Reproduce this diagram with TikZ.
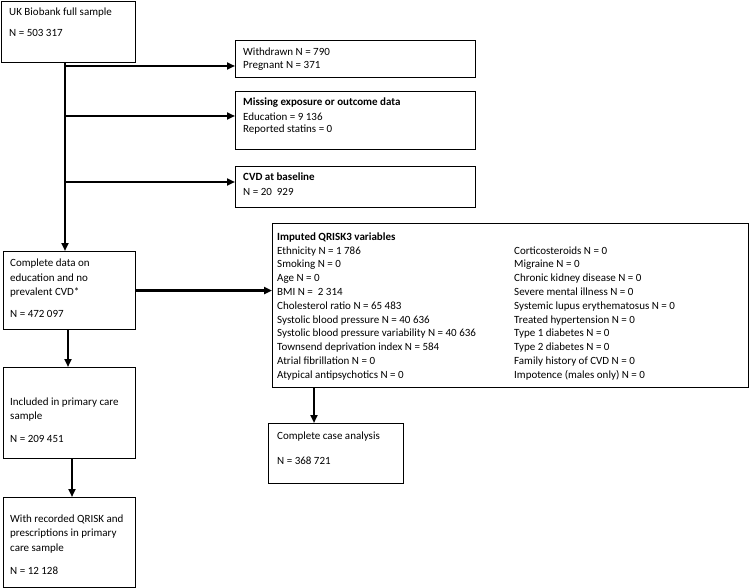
\documentclass[tikz,border=0pt]{standalone}
\usepackage{fontspec}
\setmainfont{Carlito}
\usetikzlibrary{arrows.meta}
\tikzset{
  box/.style={draw=black, line width=1.1pt, minimum width=#1, inner sep=0pt, anchor=north west},
  txt/.style={anchor=base west, inner sep=0pt, font=\fontsize{11}{13}\selectfont},
  arr/.style={line width=2.2pt, -{Triangle[length=8pt,width=7pt]}},
  ln/.style={line width=2.2pt}
}
\begin{document}
\begin{tikzpicture}[x=1pt,y=-1pt]
\useasboundingbox (0,0) rectangle (749,588);
% boxes
\node[box=134pt, minimum height=61pt] (b1) at (0.6,0.6) {};
\node[box=240pt, minimum height=37pt] (wd) at (235,40) {};
\node[box=240pt, minimum height=58pt] (ms) at (235,91) {};
\node[box=240pt, minimum height=41pt] (cvd) at (235,166) {};
\node[box=132pt, minimum height=78pt] (b2) at (3,251) {};
\node[box=476pt, minimum height=164pt] (imp) at (272,223) {};
\node[box=132pt, minimum height=91pt] (b3) at (3,367) {};
\node[box=132pt, minimum height=90pt] (b4) at (3,497) {};
\node[box=135pt, minimum height=60pt] (cca) at (268,423) {};
% texts
\node[txt] (t1a) at (9,16) {UK Biobank full sample};
\node[txt] (t1b) at (9,37) {N = 503 317};
\node[txt] (twa) at (243,56) {Withdrawn N = 790};
\node[txt] (twb) at (243,69) {Pregnant N = 371};
\node[txt] (tma) at (243,106) {\bfseries Missing exposure or outcome data};
\node[txt] (tmb) at (243,121) {Education = 9 136};
\node[txt] (tmc) at (243,133) {Reported statins = 0};
\node[txt] (tca) at (243,181) {\bfseries CVD at baseline};
\node[txt] (tcb) at (243,196) {N = 20\ \ 929};
\node[txt] (t2a) at (10,266) {Complete data on};
\node[txt] (t2b) at (10,281) {education and no};
\node[txt] (t2c) at (10,295) {prevalent CVD*};
\node[txt] (t2d) at (10,317) {N = 472 097};
\node[txt] (t3a) at (10,405) {Included in primary care};
\node[txt] (t3b) at (10,419) {sample};
\node[txt] (t3c) at (10,442) {N = 209 451};
\node[txt] (t4a) at (10,522) {With recorded QRISK and};
\node[txt] (t4b) at (10,536) {prescriptions in primary};
\node[txt] (t4c) at (10,551) {care sample};
\node[txt] (t4d) at (10,574) {N = 12 128};
\node[txt] (tka) at (277,439) {Complete case analysis};
\node[txt] (tkb) at (277,464) {N = 368 721};
\node[txt] (tit) at (277,240.5) {\bfseries Imputed QRISK3 variables};
\foreach \s [count=\i from 0] in {Ethnicity N = 1 786, Smoking N = 0, Age N = 0, BMI N = \ 2 314, Cholesterol ratio N = 65 483, Systolic blood pressure N = 40 636, Systolic blood pressure variability N = 40 636, Townsend deprivation index N = 584, Atrial fibrillation N = 0, Atypical antipsychotics N = 0}
  \node[txt] (l\i) at (277,254+13.8*\i) {\s};
\foreach \s [count=\i from 0] in {Corticosteroids N = 0, Migraine N = 0, Chronic kidney disease N = 0, Severe mental illness N = 0, Systemic lupus erythematosus N = 0, Treated hypertension N = 0, Type 1 diabetes N = 0, Type 2 diabetes N = 0, Family history of CVD N = 0, Impotence (males only) N = 0}
  \node[txt] (r\i) at (514,254+13.8*\i) {\s};
% connectors
\coordinate (tr) at (65,0);
\draw[arr] (b1.south -| tr) -- (b2.north -| tr);
\draw[arr] (tr |- 0,66) -- (wd.west |- 0,66);
\draw[arr] (tr |- 0,116) -- (ms.west |- 0,116);
\draw[arr] (tr |- 0,182) -- (cvd.west |- 0,182);
\draw[arr] (b2.east) -- (imp.west |- b2.east);
\draw[arr] (b2.south -| 68,0) -- (b3.north -| 68,0);
\draw[arr] (b3.south -| 72,0) -- (b4.north -| 72,0);
\draw[arr] (imp.south -| 314,0) -- (cca.north -| 314,0);
\end{tikzpicture}
\end{document}
